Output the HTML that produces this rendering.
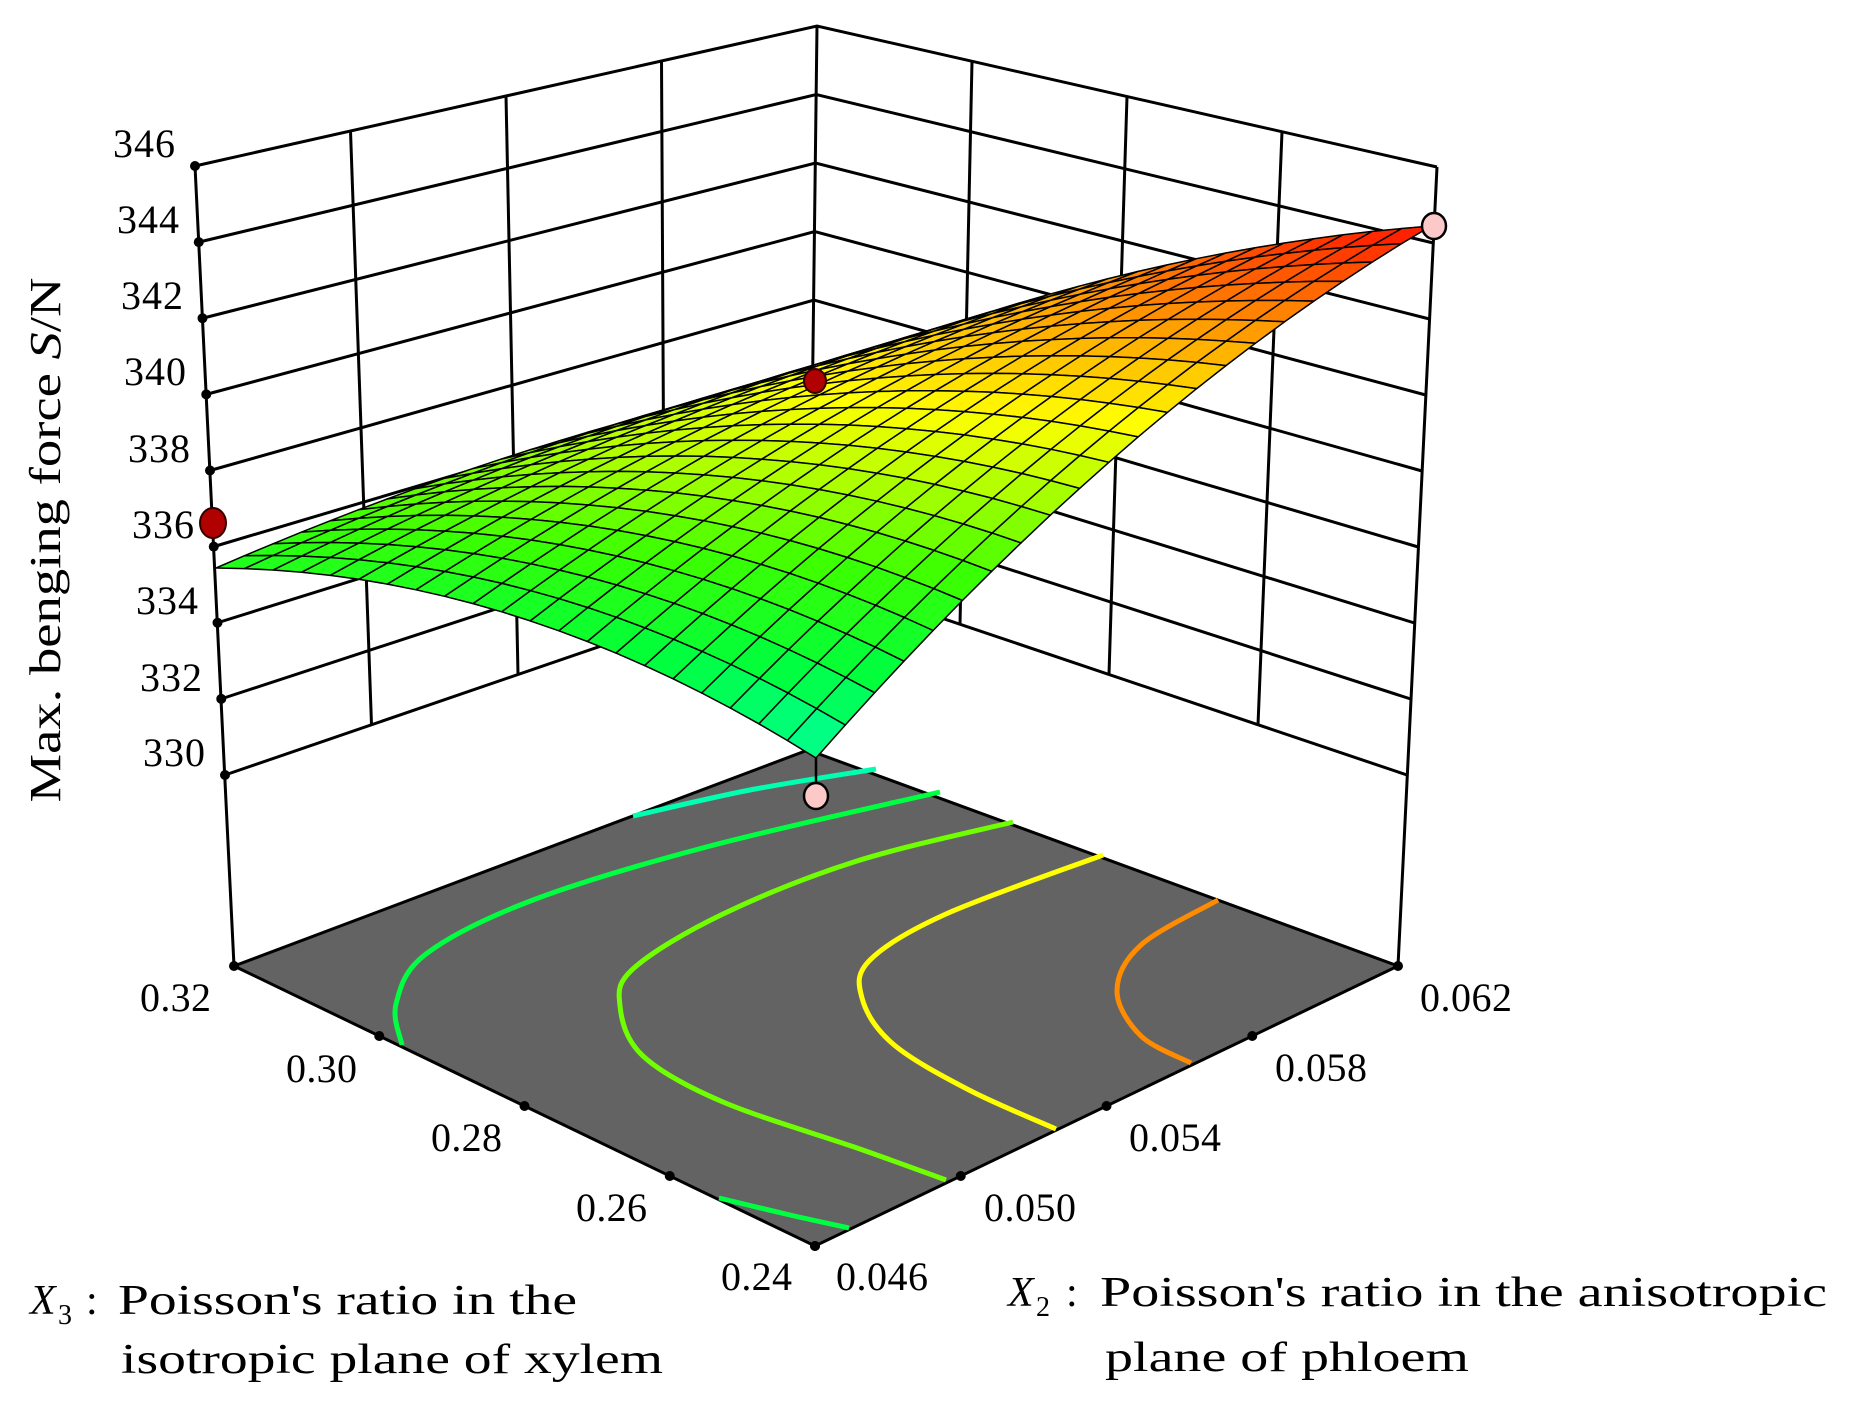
<!DOCTYPE html>
<html><head><meta charset="utf-8"><style>
html,body{margin:0;padding:0;background:#fff;}
svg{display:block;}
text{font-family:"Liberation Serif",serif;fill:#000;}
</style></head><body>
<svg id="s" width="1855" height="1419" viewBox="0 0 1855 1419" xmlns="http://www.w3.org/2000/svg">
<g id="walls" stroke="#000" stroke-width="3" fill="none"></g>
<polygon points="234,966 808,750 1398,966 815,1246" fill="#636363" stroke="#000" stroke-width="3"/>
<g id="cont" fill="none" stroke-width="5"></g>
<g id="dotsfloor" fill="#000"></g>
<line x1="816" y1="758" x2="816" y2="784" stroke="#000" stroke-width="2.5"/>
<ellipse cx="816" cy="796" rx="12" ry="13" fill="#fcc8c8" stroke="#000" stroke-width="2.5"/>
<g id="surf" stroke="#000" stroke-width="1.5" stroke-linejoin="round"></g>
<ellipse cx="815" cy="381" rx="11" ry="12" fill="#b00000" stroke="#300" stroke-width="2"/>
<ellipse cx="213" cy="523" rx="13" ry="15" fill="#b00000" stroke="#300" stroke-width="2"/>
<ellipse cx="1434" cy="226" rx="12" ry="13" fill="#fcc8c8" stroke="#000" stroke-width="2.5"/>
<g font-size="40" lengthAdjust="spacingAndGlyphs">
<text x="175" y="157" text-anchor="end" textLength="62">346</text>
<text x="179" y="233" text-anchor="end" textLength="62">344</text>
<text x="183" y="309" text-anchor="end" textLength="62">342</text>
<text x="186" y="385" text-anchor="end" textLength="62">340</text>
<text x="190" y="462" text-anchor="end" textLength="62">338</text>
<text x="194" y="538" text-anchor="end" textLength="62">336</text>
<text x="198" y="614" text-anchor="end" textLength="62">334</text>
<text x="202" y="691" text-anchor="end" textLength="62">332</text>
<text x="205" y="766" text-anchor="end" textLength="62">330</text>
<text x="140" y="1011" textLength="71">0.32</text>
<text x="286" y="1082" textLength="71">0.30</text>
<text x="431" y="1151" textLength="71">0.28</text>
<text x="576" y="1221" textLength="71">0.26</text>
<text x="721" y="1290" textLength="71">0.24</text>
<text x="836" y="1290" textLength="92">0.046</text>
<text x="984" y="1221" textLength="92">0.050</text>
<text x="1129" y="1151" textLength="92">0.054</text>
<text x="1275" y="1081" textLength="92">0.058</text>
<text x="1420" y="1011" textLength="92">0.062</text>
</g>
<text transform="translate(60,540) rotate(-90)" font-size="44" text-anchor="middle" textLength="525" lengthAdjust="spacingAndGlyphs">Max. benging force <tspan font-style="italic">S</tspan>/N</text>
<g font-size="42">
<text x="30" y="1314" font-style="italic">X</text><text x="58" y="1324" font-size="28">3</text><text x="86" y="1314">:</text>
<text x="118" y="1314" textLength="459" lengthAdjust="spacingAndGlyphs">Poisson's ratio in the</text>
<text x="121" y="1373" textLength="542" lengthAdjust="spacingAndGlyphs">isotropic plane of xylem</text>
<text x="1008" y="1306" font-style="italic">X</text><text x="1036" y="1316" font-size="28">2</text><text x="1066" y="1306">:</text>
<text x="1100" y="1306" textLength="727" lengthAdjust="spacingAndGlyphs">Poisson's ratio in the anisotropic</text>
<text x="1105" y="1371" textLength="364" lengthAdjust="spacingAndGlyphs">plane of phloem</text>
</g>
</svg>
<script>
(function(){
var NS="http://www.w3.org/2000/svg";
function el(p,n,a){var e=document.createElementNS(NS,n);for(var k in a)e.setAttribute(k,a[k]);p.appendChild(e);return e;}
function lerp(a,b,t){return [a[0]+(b[0]-a[0])*t,a[1]+(b[1]-a[1])*t];}
function smooth(p){var d='M'+p[0][0]+','+p[0][1];for(var i=0;i<p.length-1;i++){var p0=p[i-1]||p[i],p1=p[i],p2=p[i+1],p3=p[i+2]||p2;
 d+=' C'+(p1[0]+(p2[0]-p0[0])/6).toFixed(1)+','+(p1[1]+(p2[1]-p0[1])/6).toFixed(1)+' '+(p2[0]-(p3[0]-p1[0])/6).toFixed(1)+','+(p2[1]-(p3[1]-p1[1])/6).toFixed(1)+' '+p2[0]+','+p2[1];}return d;}
var cg=document.getElementById('cont');
[[[[633,816],[750,790],[876,769]],'#00ffb0'],
 [[[402,1045],[396,1004],[426,954],[533,900],[710,846],[940,792]],'#00ff40'],
 [[[719,1198],[790,1215],[849,1228]],'#00ff40'],
 [[[1013,822],[857,861],[723,914],[634,968],[620,1006],[643,1056],[723,1102],[857,1148],[946,1180]],'#70ff00'],
 [[[1103,855],[946,914],[870,960],[862,998],[893,1044],[969,1090],[1056,1129]],'#ffff00'],
 [[[1218,900],[1141,945],[1117,991],[1141,1036],[1191,1063]],'#ff8c00']
].forEach(function(c){el(cg,'path',{d:smooth(c[0]),stroke:c[1]});});
var w=document.getElementById('walls');
var L346=[195,166],L330=[225,775],B346=[817,26],B330=[811,574],R346=[1437,167],R330=[1407,775];
for(var k=0;k<=8;k++){var f=k/8;var l=lerp(L346,L330,f),b=lerp(B346,B330,f),r=lerp(R346,R330,f);
 el(w,'polyline',{points:l.join(',')+' '+b.join(',')+' '+r.join(',')});}
[0.25,0.5,0.75].forEach(function(t){
 var a=lerp(L346,B346,t),c=lerp(L330,B330,t);el(w,'line',{x1:a[0],y1:a[1],x2:c[0],y2:c[1]});
 a=lerp(B346,R346,t);c=lerp(B330,R330,t);el(w,'line',{x1:a[0],y1:a[1],x2:c[0],y2:c[1]});});
el(w,'line',{x1:195,y1:166,x2:234,y2:966});
el(w,'line',{x1:1437,y1:167,x2:1398,y2:966});
el(w,'line',{x1:817,y1:26,x2:808,y2:750});
var d=document.getElementById('dotsfloor');
for(var k=0;k<=8;k++){var p=lerp(L346,L330,k/8);el(d,'circle',{cx:p[0],cy:p[1],r:5});}
for(var k=0;k<=4;k++){var p=lerp([234,966],[815,1246],k/4);el(d,'circle',{cx:p[0],cy:p[1],r:5});
 p=lerp([815,1246],[1398,966],k/4);el(d,'circle',{cx:p[0],cy:p[1],r:5});}
var SL=[216,568],SBo=[816,758],SBk=[815,375],SR=[1431,226];
var vL=334.6,vBo=331.3,vBk=337.6,vR=344.6;
function P(s,t){var a=lerp(SL,SBo,s),b=lerp(SBk,SR,s),p=lerp(a,b,t);
 var bu=4*s*(1-s)*(55*(1-t)+30*t)+4*t*(1-t)*(20*(1-s)+50*s);
 return [p[0],p[1]-bu*0.85];}
function V(s,t){return vL*(1-s)*(1-t)+vBo*s*(1-t)+vBk*(1-s)*t+vR*s*t+1.2*(4*s*(1-s))+1.2*(4*t*(1-t));}
var stops=[[331,[0,255,170]],[333.5,[0,255,60]],[336,[60,255,0]],[338,[170,255,0]],[339.8,[255,255,0]],[342,[255,160,0]],[344.6,[255,20,0]]];
function col(v){if(v<=stops[0][0])return stops[0][1];for(var i=1;i<stops.length;i++){if(v<=stops[i][0]){var a=stops[i-1],b=stops[i],f=(v-a[0])/(b[0]-a[0]);return [0,1,2].map(function(j){return Math.round(a[1][j]+(b[1][j]-a[1][j])*f);});}}return stops[stops.length-1][1];}
var N=21,cells=[];
for(var i=0;i<N;i++)for(var j=0;j<N;j++)cells.push([i,j]);
cells.sort(function(a,b){return (b[1]-b[0])-(a[1]-a[0]);});
var g=document.getElementById('surf');
cells.forEach(function(c){var s0=c[0]/N,s1=(c[0]+1)/N,t0=c[1]/N,t1=(c[1]+1)/N;
 var pts=[P(s0,t0),P(s1,t0),P(s1,t1),P(s0,t1)];var cc=col(V((s0+s1)/2,(t0+t1)/2));
 el(g,'polygon',{points:pts.map(function(p){return p[0].toFixed(1)+','+p[1].toFixed(1);}).join(' '),fill:'rgb('+cc.join(',')+')'});});
})();
</script>
</body></html>
